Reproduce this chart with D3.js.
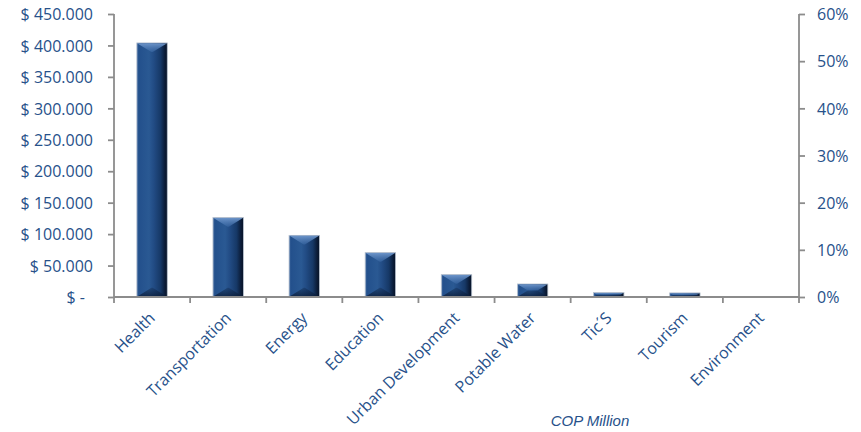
<!DOCTYPE html>
<html>
<head>
<meta charset="utf-8">
<script src="https://cdn.jsdelivr.net/npm/d3@7/dist/d3.min.js"></script>
<style>
  html, body { margin: 0; padding: 0; background: #ffffff; }
  svg { display: block; }
  .lbl { font-family: "Open Sans", sans-serif; font-size: 16px; fill: #27518a; }
</style>
</head>
<body>
<svg id="chart" width="861" height="432"></svg>
<script>
// ---- data ----
const categories = ["Health", "Transportation", "Energy", "Education", "Urban Development",
                    "Potable Water", "Tic\u00B4S", "Tourism", "Environment"];
const values = [404000, 126300, 98000, 70600, 35600, 20700, 7000, 6500, 800];
const leftTicks = [0, 50000, 100000, 150000, 200000, 250000, 300000, 350000, 400000, 450000];
const rightTicks = [0, 0.1, 0.2, 0.3, 0.4, 0.5, 0.6];
const axisTitle = "COP Million";

// ---- layout ----
const W = 861, H = 432;
const plot = { left: 114, right: 799, top: 14, bottom: 297 };
const svg = d3.select("#chart");

const x = d3.scaleBand().domain(categories).range([plot.left, plot.right]).padding(0);
const y = d3.scaleLinear().domain([0, 450000]).range([plot.bottom, plot.top]);
const y2 = d3.scaleLinear().domain([0, 0.6]).range([plot.bottom, plot.top]);

const defs = svg.append("defs");
const g1 = defs.append("linearGradient").attr("id", "barGrad").attr("x1", "0").attr("x2", "1").attr("y1", "0").attr("y2", "0");
[["0%", "#4c72a6"], ["6%", "#23508c"], ["40%", "#2a5993"], ["55%", "#224c85"], ["78%", "#163866"], ["92%", "#0b1c38"], ["100%", "#071326"]]
  .forEach(([o, c]) => g1.append("stop").attr("offset", o).attr("stop-color", c));
const gTop = defs.append("linearGradient").attr("id", "topGrad").attr("x1", "0").attr("x2", "0").attr("y1", "0").attr("y2", "1");
gTop.append("stop").attr("offset", "0%").attr("stop-color", "#6f97cc").attr("stop-opacity", 0.95);
gTop.append("stop").attr("offset", "100%").attr("stop-color", "#3c6aa6").attr("stop-opacity", 0.6);
const gBot = defs.append("linearGradient").attr("id", "botGrad").attr("x1", "0").attr("x2", "0").attr("y1", "0").attr("y2", "1");
gBot.append("stop").attr("offset", "0%").attr("stop-color", "#0e2547").attr("stop-opacity", 0.35);
gBot.append("stop").attr("offset", "100%").attr("stop-color", "#0b1d3a").attr("stop-opacity", 0.8);

// ---- bars ----
const barFrac = 0.4;
const bars = svg.append("g");
categories.forEach((c, i) => {
  const bw = x.bandwidth() * barFrac;
  const bx = x(c) + (x.bandwidth() - bw) / 2;
  const by = y(values[i]);
  const bh = y(0) - by;
  const grp = bars.append("g");
  grp.append("rect").attr("x", bx).attr("y", by).attr("width", bw).attr("height", bh)
    .attr("fill", "url(#barGrad)").attr("stroke", "#b9c3d0").attr("stroke-width", 0.8);
  const bev = Math.min(bw * 0.3, bh / 2);
  const inset = bev * 1.6;
  grp.append("polygon")
    .attr("points", [[bx + 0.5, by + 0.5], [bx + bw - 0.5, by + 0.5], [Math.max(bx + bw / 2, bx + bw - inset), by + bev], [Math.min(bx + bw / 2, bx + inset), by + bev]].map(p => p.join(",")).join(" "))
    .attr("fill", "url(#topGrad)");
  grp.append("polygon")
    .attr("points", [[bx + 0.5, y(0) - 0.5], [bx + bw - 0.5, y(0) - 0.5], [Math.max(bx + bw / 2, bx + bw - inset), y(0) - bev], [Math.min(bx + bw / 2, bx + inset), y(0) - bev]].map(p => p.join(",")).join(" "))
    .attr("fill", "url(#botGrad)");
});

// ---- axes ----
const axisColor = "#8c8c8c";
const fmt = d => d === 0 ? "$ -" : "$ " + d3.format(",")(d).replace(/,/g, ".");
const yAxis = svg.append("g").attr("transform", `translate(${plot.left},0)`)
  .call(d3.axisLeft(y).tickValues(leftTicks).tickFormat(fmt).tickSize(6).tickPadding(15));
yAxis.selectAll("text").attr("class", "lbl").attr("dy", "0.36em")
  .attr("dx", d => d === 0 ? -8 : 0);

const y2Axis = svg.append("g").attr("transform", `translate(${plot.right},0)`)
  .call(d3.axisRight(y2).tickValues(rightTicks).tickFormat(d3.format(".0%")).tickSize(6).tickPadding(12));
y2Axis.selectAll("text").attr("class", "lbl").attr("dy", "0.36em");

const xAxis = svg.append("g").attr("transform", `translate(0,${plot.bottom})`);
xAxis.append("line").attr("x1", plot.left).attr("x2", plot.right).attr("y1", 0).attr("y2", 0);
const bounds = categories.map(c => x(c)).concat([plot.right]);
xAxis.selectAll("line.tk").data(bounds).join("line").attr("class", "tk")
  .attr("x1", d => d).attr("x2", d => d).attr("y1", 0).attr("y2", 6);

[yAxis, y2Axis, xAxis].forEach(a => {
  a.selectAll("path.domain").attr("stroke", axisColor).attr("stroke-width", 1.8);
  a.selectAll("line").attr("stroke", axisColor).attr("stroke-width", 1.8);
  a.selectAll("text").attr("font-family", null).attr("font-size", null);
});
yAxis.select("path.domain").attr("d", `M0,${plot.top}V${plot.bottom}`);
y2Axis.select("path.domain").attr("d", `M0,${plot.top}V${plot.bottom}`);

// category labels
svg.append("g").selectAll("text").data(categories).join("text")
  .attr("class", "lbl")
  .attr("text-anchor", "end")
  .attr("transform", d => `translate(${x(d) + x.bandwidth() / 2 + 4},${plot.bottom + 22}) rotate(-45)`)
  .text(d => d);

// axis title
svg.append("text")
  .attr("x", 590).attr("y", 426)
  .attr("text-anchor", "middle")
  .attr("font-family", "'Liberation Sans', Arial, sans-serif")
  .attr("font-style", "italic")
  .attr("font-size", 15)
  .attr("fill", "#27518a")
  .text(axisTitle);
</script>
</body>
</html>
